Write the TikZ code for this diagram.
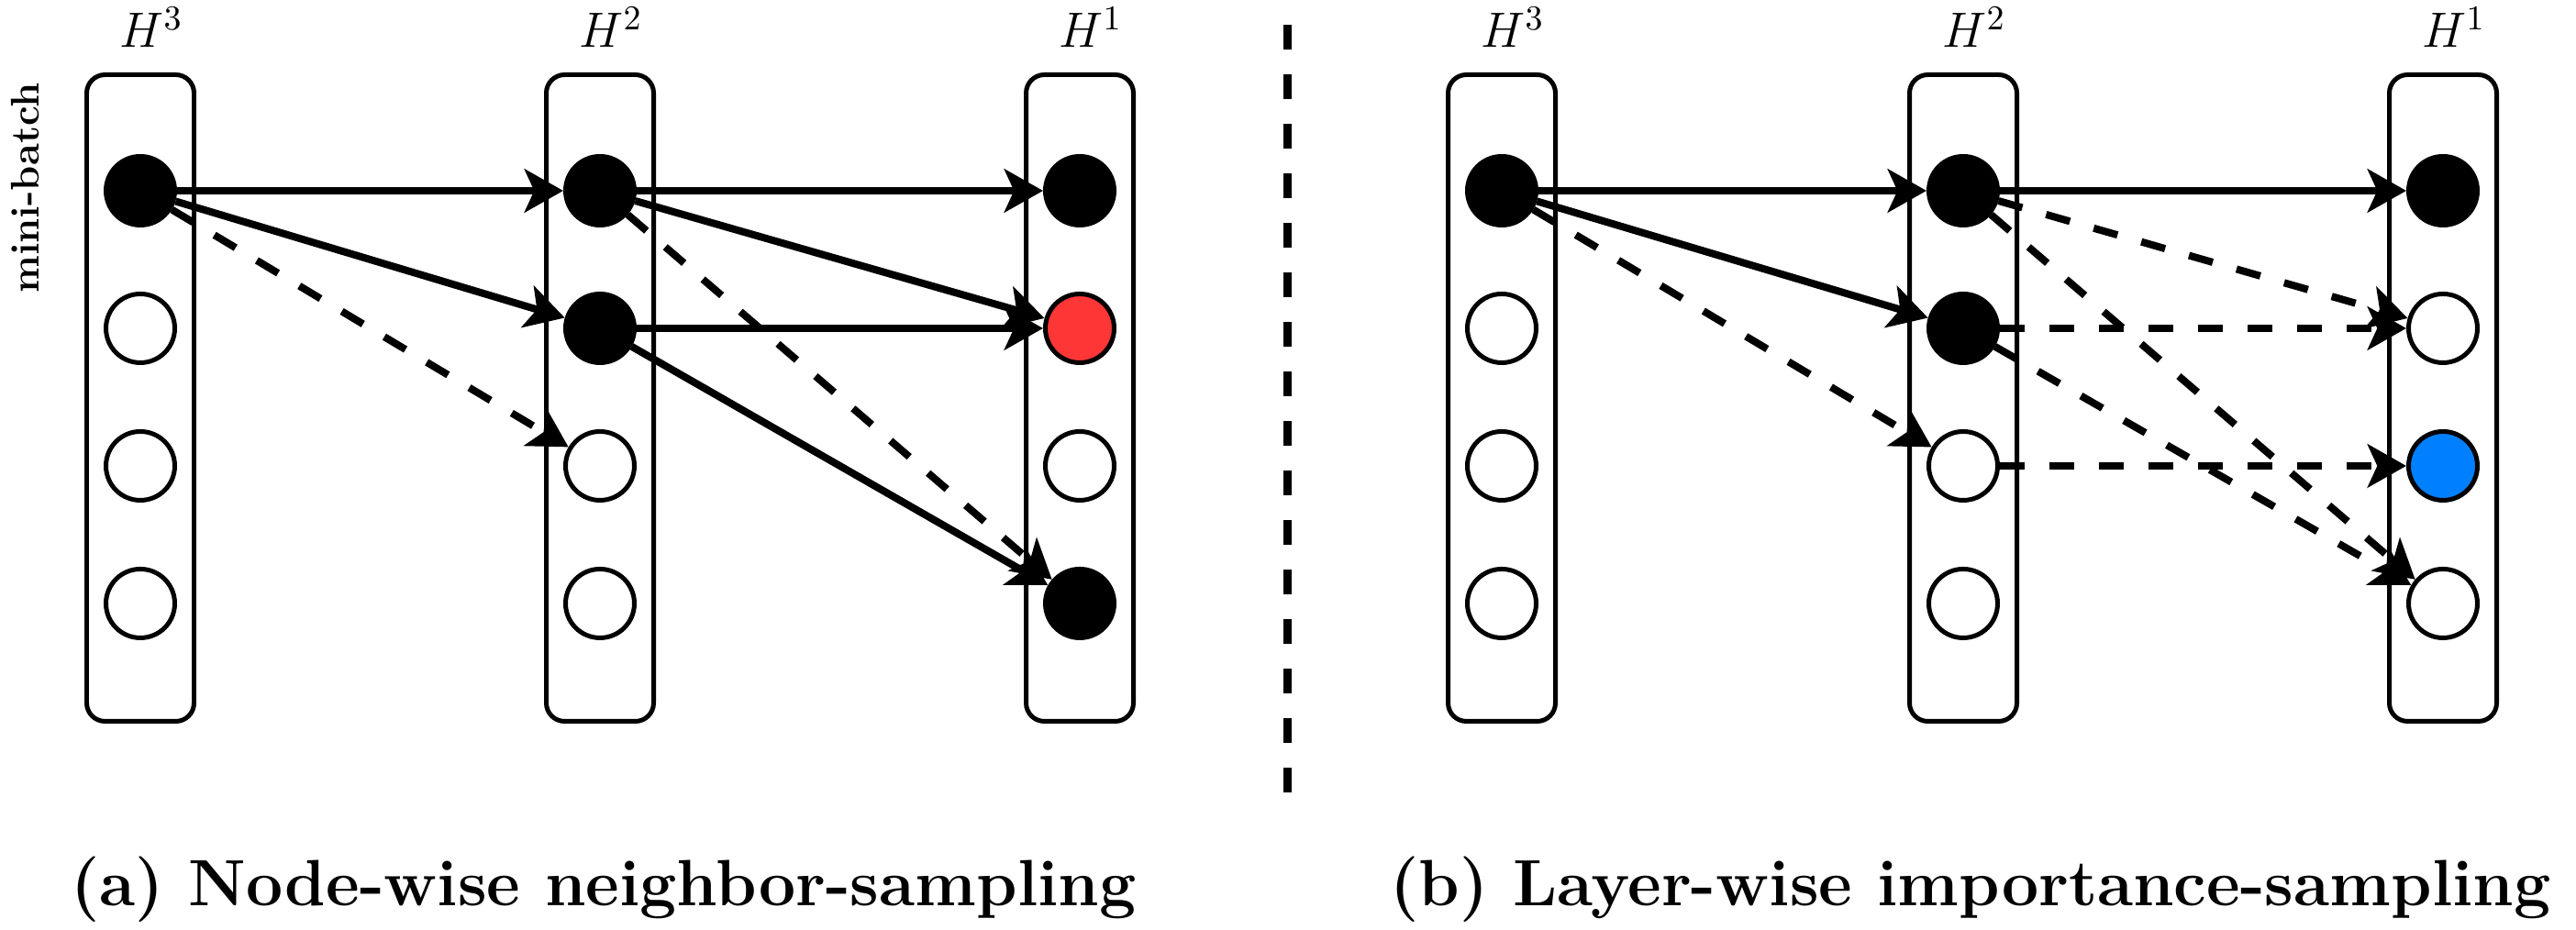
\RequirePackage{fix-cm}
\documentclass[tikz,border=0pt]{standalone}
\usepackage{tikz}
\usetikzlibrary{positioning,arrows.meta}
\definecolor{SampRed}{HTML}{FF3636}
\definecolor{SampBlue}{HTML}{0080FF}

\begin{document}
\begin{tikzpicture}[
  node distance=7mm,
  layer/.style={draw,line width=1.42pt,rounded corners=2mm,
    minimum width=11.7mm,minimum height=70.5mm,inner sep=0pt},
  vtx/.style={circle,draw,line width=1.42pt,minimum size=7.5mm,inner sep=0pt,fill=white},
  picked/.style={vtx,fill=black},
  redv/.style={vtx,fill=SampRed},
  bluev/.style={vtx,fill=SampBlue},
  hlab/.style={anchor=base,font=\fontsize{15.4}{18}\selectfont},
  subcap/.style={anchor=base,font=\fontsize{20.3}{24}\selectfont\bfseries},
  arr/.style={-{Stealth[length=12pt,width=13.4pt,inset=3pt]},line width=2.28pt},
  darr/.style={arr,dash pattern=on 7.68pt off 7.68pt}
]
  \useasboundingbox (0,0) rectangle (28.08,10.14);

  % (a) node-wise
  \node[layer] (nH3) at (1.53,5.80) {};
  \node[layer] (nH2) at (6.54,5.80) {};
  \node[layer] (nH1) at (11.77,5.80) {};
  \node[hlab] (tnH3) at (1.65,9.62) {$H^3$};
  \node[hlab] (tnH2) at (6.66,9.62) {$H^2$};
  \node[hlab] (tnH1) at (11.89,9.62) {$H^1$};
  \node[rotate=90,font=\fontsize{12.4}{14}\selectfont\bfseries] (mb) at (0.275,8.09) {mini-batch};

  \node[picked] (n31) at (1.53,8.06) {};
  \node[vtx,below=of n31] (n32) {};
  \node[vtx,below=of n32] (n33) {};
  \node[vtx,below=of n33] (n34) {};
  \node[picked] (n21) at (6.54,8.06) {};
  \node[picked,below=of n21] (n22) {};
  \node[vtx,below=of n22] (n23) {};
  \node[vtx,below=of n23] (n24) {};
  \node[picked] (n11) at (11.77,8.06) {};
  \node[redv,below=of n11] (n12) {};
  \node[vtx,below=of n12] (n13) {};
  \node[picked,below=of n13] (n14) {};

  \draw[arr] (n31) -- (n21);
  \draw[arr] (n31) -- (n22);
  \draw[darr] (n31) -- (n23);
  \draw[arr] (n21) -- (n11);
  \draw[arr] (n21) -- (n12);
  \draw[darr] (n21) -- (n14);
  \draw[arr] (n22) -- (n12);
  \draw[arr] (n22) -- (n14);

  % separator
  \coordinate (septop) at (14.03,9.87);
  \coordinate (sepbot) at (14.03,1.50);
  \draw[line width=2.56pt,dash pattern=on 7.68pt off 7.68pt] (septop) -- (sepbot);

  % (b) layer-wise
  \node[layer] (lH3) at (16.37,5.80) {};
  \node[layer] (lH2) at (21.40,5.80) {};
  \node[layer] (lH1) at (26.63,5.80) {};
  \node[hlab] (tlH3) at (16.49,9.62) {$H^3$};
  \node[hlab] (tlH2) at (21.52,9.62) {$H^2$};
  \node[hlab] (tlH1) at (26.75,9.62) {$H^1$};

  \node[picked] (l31) at (16.37,8.06) {};
  \node[vtx,below=of l31] (l32) {};
  \node[vtx,below=of l32] (l33) {};
  \node[vtx,below=of l33] (l34) {};
  \node[picked] (l21) at (21.40,8.06) {};
  \node[picked,below=of l21] (l22) {};
  \node[vtx,below=of l22] (l23) {};
  \node[vtx,below=of l23] (l24) {};
  \node[picked] (l11) at (26.63,8.06) {};
  \node[vtx,below=of l11] (l12) {};
  \node[bluev,below=of l12] (l13) {};
  \node[vtx,below=of l13] (l14) {};

  \draw[arr] (l31) -- (l21);
  \draw[arr] (l31) -- (l22);
  \draw[darr] (l31) -- (l23);
  \draw[arr] (l21) -- (l11);
  \draw[darr] (l21) -- (l12);
  \draw[darr] (l21) -- (l14);
  \draw[darr] (l22) -- (l12);
  \draw[darr] (l22) -- (l14);
  \draw[darr] (l23) -- (l13);

  \node[subcap] (capa) at (6.58,0.26) {(a) Node-wise neighbor-sampling};
  \node[subcap] (capb) at (21.48,0.26) {(b) Layer-wise importance-sampling};
\end{tikzpicture}
\end{document}
